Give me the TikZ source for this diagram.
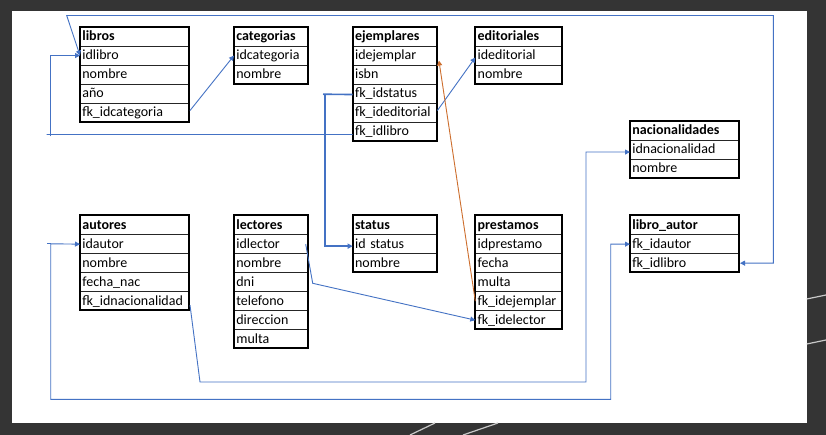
\documentclass[tikz,border=0pt]{standalone}
\usepackage{fontspec}
\setmainfont{Carlito}
\usetikzlibrary{arrows.meta}
\definecolor{bgdark}{RGB}{52,52,52}
\definecolor{lnblue}{RGB}{68,114,196}
\definecolor{lnorange}{RGB}{205,110,45}
\definecolor{deco}{RGB}{200,200,200}
\tikzset{
  cell/.style={rectangle, draw=black!85, line width=0.7pt, anchor=north west,
    minimum height=19pt, inner xsep=2pt, inner ysep=0pt, align=left,
    text height=10.5pt, text depth=2.5pt, font=\fontsize{14}{16}\selectfont},
  headcell/.style={cell, font=\fontsize{14}{16}\selectfont\bfseries},
  tframe/.style={draw=black, line width=1.8pt},
  conn/.style={draw=lnblue, line width=0.9pt},
  thickconn/.style={draw=lnblue, line width=1.6pt},
  orangeconn/.style={draw=lnorange, line width=0.9pt},
  arrowend/.style={-{Triangle[length=5pt,width=5pt]}},
  arrowboth/.style={{Triangle[length=5pt,width=5pt]}-{Triangle[length=5pt,width=5pt]}},
  decoline/.style={draw=deco, line width=1.2pt},
}
\newcommand\dbtable[7]{% name, x, y, width, header, fields, number of fields
  \pgfmathsetmacro\tw{#4-4}
  \node[headcell, text width=\tw pt] (#1-0) at (#2,#3) {#5};
  \foreach \f [count=\i] in {#6} {
    \node[cell, text width=\tw pt] (#1-\i) at (#2,#3+\i*19) {\f};
  }
  \draw[tframe] (#2,#3) rectangle (#2+#4,#3+19+#7*19);
}
\begin{document}
\begin{tikzpicture}[x=1pt,y=-1pt]
\useasboundingbox (0,0) rectangle (826,435);
\fill[bgdark] (0,0) rectangle (826,435);
\fill[white] (12,11) rectangle (806.7,422.7);
% decorative light strokes in the dark margin
\draw[decoline] (806.7,299) -- (826,295);
\draw[decoline] (806.7,344) -- (826,340);
\draw[decoline] (410,435) -- (435,423);
\draw[decoline] (463,435) -- (498,423);

% tables
\dbtable{libros}{80}{26.7}{109.3}{libros}{idlibro,nombre,año,fk\_idcategoria}{4}
\dbtable{categorias}{234}{26.7}{74}{categorias}{idcategoria,nombre}{2}
\dbtable{ejemplares}{352.7}{26.7}{84}{ejemplares}{idejemplar,isbn,fk\_idstatus,fk\_ideditorial,fk\_idlibro}{5}
\dbtable{editoriales}{475.3}{26.7}{87}{editoriales}{ideditorial,nombre}{2}
\dbtable{nacionalidades}{630}{120.7}{109.3}{nacionalidades}{idnacionalidad,nombre}{2}
\dbtable{autores}{80}{215.3}{109.3}{autores}{idautor,nombre,fecha\_nac,fk\_idnacionalidad}{4}
\dbtable{lectores}{234}{215.3}{74}{lectores}{idlector,nombre,dni,telefono,direccion,multa}{6}
\dbtable{status}{352.7}{215.3}{84}{status}{id status,nombre}{2}
\dbtable{prestamos}{475.3}{215.3}{87}{prestamos}{idprestamo,fecha,multa,fk\_idejemplar,fk\_idelector}{5}
\dbtable{libroautor}{630}{215.3}{109.3}{libro\_autor}{fk\_idautor,fk\_idlibro}{2}

% connectors
\draw[conn, arrowboth] (libros-1.west) -- (66.7,15.5) -- (773.3,15.5) |- (libroautor-2.east);
\draw[conn] ([yshift=-3pt]ejemplares-5.west) -- (46.5,134.5);
\draw[conn, arrowend] (50,136.5) |- (libros-1.west);
\draw[conn, arrowend] ([yshift=2pt]libros-4.east) -- (categorias-1.west);
\draw[conn, arrowend] ([yshift=2pt]ejemplares-4.east) -- ([yshift=-2pt]editoriales-1.west);
\draw[thickconn] ([yshift=-1pt]ejemplares-3.west) -- (323,94.2);
\draw[thickconn, arrowend] (325,94.2) |- ([yshift=-2pt]status-1.west);
\draw[orangeconn, arrowend] (prestamos-4.west) -- ([xshift=1.5pt,yshift=-5pt]ejemplares-1.east);
\draw[conn, arrowend] ([xshift=-3pt]lectores-1.east) -- (312.7,283.3) -- (prestamos-5.west);
\draw[conn, arrowend] ([yshift=-4pt]autores-4.east) -- (200,382) -- (586,382) |- ([yshift=-2.5pt]nacionalidades-1.west);
\draw[conn] (47,243.8) -- (50.7,243.8);
\draw[conn, arrowboth] (autores-1.west) -- (50.7,243.8) -- (50.7,399.3) -- (610.7,399.3) |- (libroautor-1.west);
\end{tikzpicture}
\end{document}
